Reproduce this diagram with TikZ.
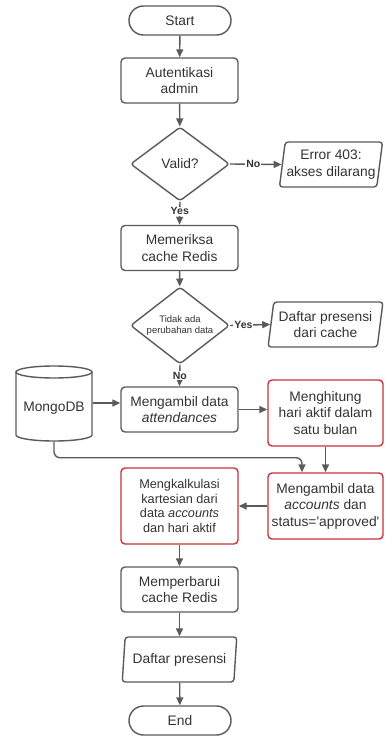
\documentclass[tikz,border=0pt]{standalone}
\usepackage{fontspec}
\newfontfamily\lsans{Liberation Sans}
\usetikzlibrary{shapes.geometric,arrows.meta}
\definecolor{ln}{HTML}{5A5A5A}
\definecolor{tx}{HTML}{333333}
\definecolor{rd}{HTML}{C8303C}
\begin{document}
\begin{tikzpicture}[x=1pt,y=-1pt,
  base/.style={draw=ln, line width=1.4pt, text=tx, font=\lsans\fontsize{13.8}{16.5}\selectfont, align=center, inner sep=0pt},
  term/.style={base, minimum width=102pt, minimum height=29pt, rounded corners=14.5pt},
  proc/.style={base, minimum width=117pt, minimum height=45pt, rounded corners=4pt},
  redproc/.style={proc, draw=rd, minimum width=115pt, minimum height=66pt},
  dec/.style={base, diamond, aspect=1.3, minimum width=99pt, minimum height=74pt, rounded corners=3pt},
  io/.style={base, trapezium, trapezium left angle=79, trapezium right angle=101, trapezium stretches=true, minimum height=45pt, rounded corners=3pt},
  arr/.style={draw=ln, line width=1.4pt, -{Triangle[length=8pt,width=7pt]}},
  lab/.style={fill=white, text=tx, font=\lsans\bfseries\fontsize{10.5}{12}\selectfont, inner sep=1pt}
]
\useasboundingbox (0,0) rectangle (384,736);

\node[term] (start) at (180,20.5) {Start};
\node[proc] (auth) at (179.5,80.5) {Autentikasi\\admin};
\node[dec] (valid) at (180,164) {Valid?};
\node[io, minimum width=104pt] (err) at (331,164.5) {Error 403:\\akses dilarang};
\node[proc] (cek) at (179.5,248) {Memeriksa\\cache Redis};
\node[dec, minimum height=77pt, font=\lsans\fontsize{9.5}{11}\selectfont] (ubah) at (180,325.5) {Tidak ada\\perubahan data};
\node[io, minimum width=115pt] (dcache) at (325.5,324.5) {Daftar presensi\\dari cache};
\node[base, draw=none, minimum width=76pt, minimum height=66pt] (mongo) at (54,408) {MongoDB};
\node[proc] (att) at (179.5,409.5) {Mengambil data\\\textit{attendances}};
\node[redproc] (hit) at (325.5,413) {Menghitung\\hari aktif dalam\\satu bulan};
\node[redproc] (acc) at (325.5,506) {Mengambil data\\\textit{accounts} dan\\status='approved'};
\node[redproc, minimum width=117pt, minimum height=76pt, font=\lsans\fontsize{12.7}{14.7}\selectfont] (calc) at (179.5,506) {Mengkalkulasi\\kartesian dari\\data \textit{accounts}\\dan hari aktif};
\node[proc] (upd) at (179.5,589.5) {Memperbarui\\cache Redis};
\node[io, minimum width=115pt] (dp) at (179.5,659.5) {Daftar presensi};
\node[term] (end) at (180,720.5) {End};

% cylinder
\draw[draw=ln, line width=1.4pt] (54,372) ellipse[x radius=38, y radius=6];
\draw[draw=ln, line width=1.4pt] (16,372) -- (16,435) arc[start angle=180, end angle=0, x radius=38, y radius=6] -- (92,372);

% connectors
\draw[arr] (start) -- (auth);
\draw[arr] (auth) -- (valid);
\draw[arr] (valid.east) -- node[lab, pos=0.45]{No} (err.west);
\draw[arr] (valid.south) -- node[lab, pos=0.42]{Yes} (cek.north);
\draw[arr] (cek) -- (ubah);
\draw[arr] (ubah.east) -- node[lab, pos=0.33]{Yes} (dcache.west);
\draw[arr] (ubah.south) -- node[lab]{No} (att.north);
\draw[arr] ([yshift=5pt]mongo.east) -- ([yshift=5pt]mongo.east -| att.west);
\draw[arr] (att.east) -- (att.east -| hit.west);
\draw[arr] (hit) -- (acc);
\draw[arr, rounded corners=6pt] (mongo.south) -- ++(0,16) -| ([xshift=-23.5pt]acc.north);
\draw[arr] (acc) -- (calc);
\draw[arr] (calc) -- (upd);
\draw[arr] (upd) -- (dp);
\draw[arr] (dp) -- (end);
\end{tikzpicture}
\end{document}
